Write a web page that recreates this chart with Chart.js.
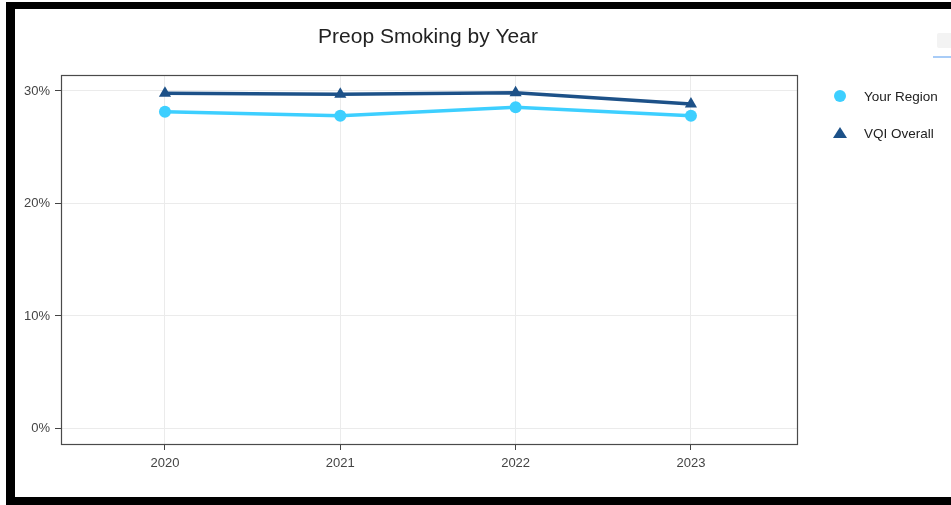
<!DOCTYPE html>
<html>
<head>
<meta charset="utf-8">
<title>Preop Smoking by Year</title>
<script src="https://cdn.jsdelivr.net/npm/chart.js@4.4.1/dist/chart.umd.min.js"></script>
<style>
  html, body { margin: 0; padding: 0; background: #fff; overflow: hidden; }
  body { width: 951px; height: 505px; position: relative; font-family: "Liberation Sans", Arial, sans-serif; }
  .frame {
    position: absolute; left: 6px; top: 2px; width: 960px; height: 488px;
    border-left: 9px solid #000; border-top: 7px solid #000; border-bottom: 8px solid #000;
    background: #fff;
  }
  .chart-box { position: absolute; left: 15px; top: 9px; width: 936px; height: 488px; }
  /* remains of the toolbar at the top right */
  .modebar-icon { position: absolute; left: 937px; top: 33px; width: 16px; height: 15px; background: #f3f3f3; border-radius: 2px; }
  .modebar-line { position: absolute; left: 933px; top: 56px; width: 20px; height: 2px; background: #a8ccf7; }
</style>
</head>
<body>
<div class="frame"></div>
<div class="chart-box"><canvas id="chart" width="936" height="488"></canvas></div>
<div class="modebar-icon"></div>
<div class="modebar-line"></div>
<script>
// ---------- DATA ----------
const years = [2020, 2021, 2022, 2023];
const yourRegion = [28.15, 27.8, 28.55, 27.8];
const vqiOverall = [29.8, 29.7, 29.85, 28.85];
const yTicks = [0, 10, 20, 30];

const TEXT = "#444";
const FONT = "'Liberation Sans', Arial, sans-serif";

const series = [
  { label: "Your Region", values: yourRegion, color: "#3dcfff", style: "circle", radius: 6 },
  { label: "VQI Overall", values: vqiOverall, color: "#1d5188", style: "triangle", radius: 7 },
];

// plot frame on all four sides
const framePlugin = {
  id: "frame",
  afterDraw(chart) {
    const { ctx, chartArea: a } = chart;
    ctx.save();
    ctx.strokeStyle = "#4a4a4a";
    ctx.lineWidth = 1.2;
    ctx.strokeRect(Math.round(a.left) + 0.5, Math.round(a.top) + 0.5,
      Math.round(a.right - a.left), Math.round(a.bottom - a.top));
    ctx.restore();
  }
};

// title and legend on the right
const labelsPlugin = {
  id: "labels",
  afterDraw(chart) {
    const ctx = chart.ctx;
    ctx.save();
    ctx.fillStyle = "#222";
    ctx.font = "21px " + FONT;
    ctx.textAlign = "center";
    ctx.textBaseline = "middle";
    ctx.fillText("Preop Smoking by Year", 413, 28);

    ctx.font = "13.5px " + FONT;
    ctx.textAlign = "left";
    series.forEach((s, i) => {
      const y = 87 + i * 37;
      ctx.fillStyle = s.color;
      ctx.beginPath();
      if (s.style === "circle") {
        ctx.arc(825, y, 6, 0, Math.PI * 2);
      } else {
        ctx.moveTo(825, y - 6);
        ctx.lineTo(832, y + 5);
        ctx.lineTo(818, y + 5);
        ctx.closePath();
      }
      ctx.fill();
      ctx.fillStyle = "#222";
      ctx.fillText(s.label, 849, y + 1);
    });
    ctx.restore();
  }
};

new Chart(document.getElementById("chart"), {
  type: "line",
  data: {
    datasets: series.map((s) => ({
      label: s.label,
      data: years.map((yr, i) => ({ x: yr, y: s.values[i] })),
      borderColor: s.color,
      backgroundColor: s.color,
      borderWidth: 3.5,
      pointStyle: s.style,
      pointRadius: s.radius,
      pointHoverRadius: s.radius,
      pointBorderWidth: 0,
      tension: 0,
    })),
  },
  options: {
    responsive: false,
    animation: false,
    events: [],
    layout: { padding: { left: 0, top: 66, right: 154, bottom: 0 } },
    plugins: { legend: { display: false }, title: { display: false }, tooltip: { enabled: false } },
    scales: {
      x: {
        type: "linear",
        min: 2019.407,
        max: 2023.605,
        afterBuildTicks: (scale) => { scale.ticks = years.map((v) => ({ value: v })); },
        afterFit: (scale) => { scale.height = 53; },
        grid: { color: "#ebebeb", lineWidth: 1, tickColor: TEXT, tickLength: 6, drawTicks: true },
        border: { display: false },
        ticks: { color: TEXT, font: { family: FONT, size: 13 }, padding: 6, maxRotation: 0,
                 callback: (v) => String(v) },
      },
      y: {
        min: -1.38,
        max: 31.42,
        afterBuildTicks: (scale) => { scale.ticks = yTicks.map((v) => ({ value: v })); },
        afterFit: (scale) => { scale.width = 46; },
        grid: { color: "#ebebeb", lineWidth: 1, tickColor: TEXT, tickLength: 6, drawTicks: true },
        border: { display: false },
        ticks: { color: TEXT, font: { family: FONT, size: 13 }, padding: 5,
                 callback: (v) => v + "%" },
      },
    },
  },
  plugins: [framePlugin, labelsPlugin],
});
</script>
</body>
</html>
